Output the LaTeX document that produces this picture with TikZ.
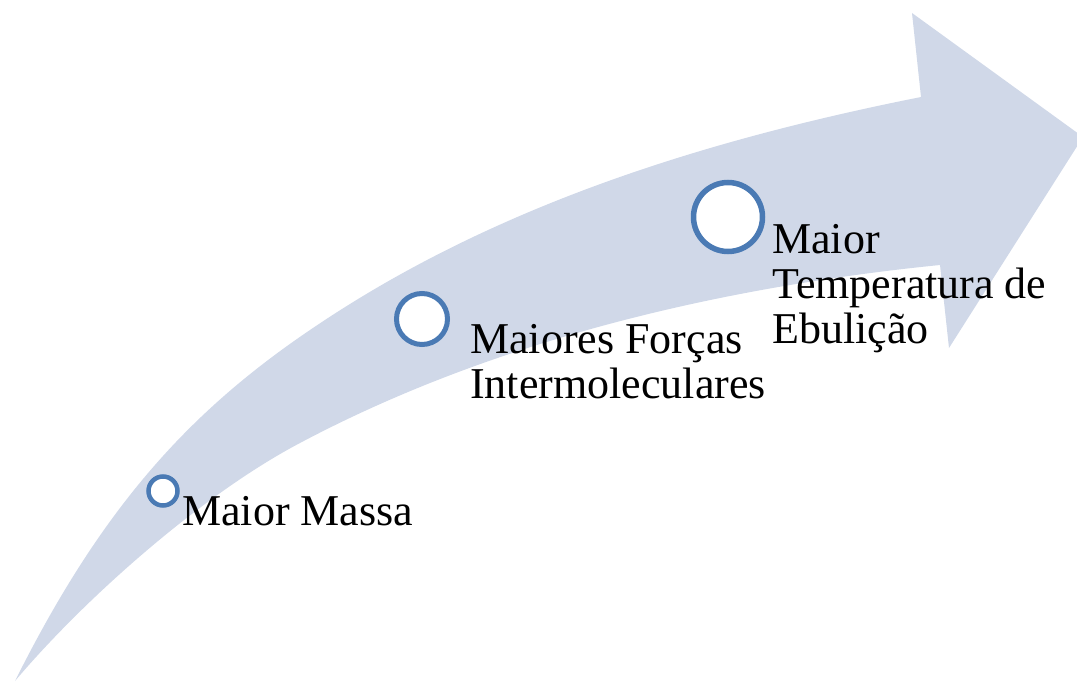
\documentclass[tikz,border=0pt]{standalone}
\usepackage{fontspec}
\setmainfont{Liberation Serif}
\usepackage{tikz}
\usetikzlibrary{positioning}
\definecolor{arrowgray}{RGB}{208,216,232}
\definecolor{ringblue}{RGB}{74,122,180}

\begin{document}
\begin{tikzpicture}[x=1pt, y=-1pt,
  stagering/.style={circle, draw=ringblue, fill=white, inner sep=0pt},
  stagetext/.style={anchor=base west, align=left, inner sep=0pt, font=\fontsize{44}{45}\selectfont}]
  \useasboundingbox (0,0) rectangle (1077,682);
  \clip (0,0) rectangle (1077,682);
  % curved arrow
  \coordinate (tail) at (15,681);
  \fill[arrowgray] (tail) .. controls (100,511) and (186,414) .. (310,330)
    .. controls (492,206) and (705,140) .. (921,97)
    -- (912,13) -- (1083,137) -- (949,348) -- (940,265)
    .. controls (721,287) and (494,340) .. (300,443)
    .. controls (203,494) and (86,597) .. (tail) -- cycle;
  % stages
  \node[stagering, minimum size=29pt, line width=4.5pt] (c1) at (163,491) {};
  \node[stagering, minimum size=51pt, line width=5pt] (c2) at (422,319) {};
  \node[stagering, minimum size=69pt, line width=5.5pt] (c3) at (728,217) {};
  \node[stagetext] (massa) at (182,525) {Maior Massa};
  \node[stagetext] (forcas) at (470,398) {Maiores Forças\\Intermoleculares};
  \node[stagetext] (temp) at (772,343) {Maior\\Temperatura de\\Ebulição};
\end{tikzpicture}
\end{document}
